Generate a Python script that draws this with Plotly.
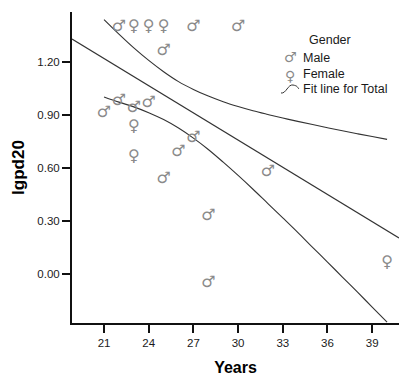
import plotly.graph_objects as go

# ---- data ----
male_years = [22, 27, 30, 25, 21, 22, 23, 24, 26, 27, 25, 28, 28, 32]
male_lgpd20 = [1.40, 1.40, 1.40, 1.26, 0.91, 0.98, 0.94, 0.97, 0.69, 0.77, 0.54, 0.33, -0.05, 0.575]
female_years = [23, 24, 25, 23, 23, 40]
female_lgpd20 = [1.40, 1.40, 1.40, 0.83, 0.66, 0.06]

# fit line for total (spans the whole axis)
fit_years = [18.85, 40.8]
fit_lgpd20 = [1.330, 0.204]

# 95% confidence band of the fit (read at each age)
ci_years = [21, 22, 23, 24, 25, 26, 27, 28, 29, 30, 31, 32, 33, 34, 35, 36, 37, 38, 39, 40]
ci_upper = [1.440, 1.358, 1.280, 1.209, 1.145, 1.089, 1.045, 1.007, 0.975, 0.948,
            0.924, 0.903, 0.883, 0.864, 0.846, 0.828, 0.811, 0.794, 0.778, 0.762]
ci_lower = [1.002, 0.973, 0.946, 0.913, 0.874, 0.826, 0.769, 0.705, 0.633, 0.558,
            0.480, 0.399, 0.318, 0.236, 0.151, 0.068, -0.017, -0.101, -0.187, -0.272]

x_ticks = [21, 24, 27, 30, 33, 36, 39]
y_ticks = [0.00, 0.30, 0.60, 0.90, 1.20]
x_range = [18.85, 40.8]
y_range = [-0.277, 1.483]

marker_color = "#8a8a8a"
line_color = "#333333"
text_color = "#1a1a1a"
font_family = "Liberation Sans, Arial, Helvetica, sans-serif"

fig = go.Figure()

fig.add_trace(go.Scatter(x=fit_years, y=fit_lgpd20, mode="lines",
                         line=dict(color=line_color, width=1.1), showlegend=False, hoverinfo="skip"))
fig.add_trace(go.Scatter(x=ci_years, y=ci_upper, mode="lines", line_shape="spline",
                         line=dict(color=line_color, width=1.1), showlegend=False, hoverinfo="skip"))
fig.add_trace(go.Scatter(x=ci_years, y=ci_lower, mode="lines", line_shape="spline",
                         line=dict(color=line_color, width=1.1), showlegend=False, hoverinfo="skip"))

fig.add_trace(go.Scatter(x=male_years, y=male_lgpd20, mode="text",
                         text=["\u2642"] * len(male_years), textposition="middle center",
                         textfont=dict(family="DejaVu Sans", size=16, color=marker_color),
                         showlegend=False))
fig.add_trace(go.Scatter(x=female_years, y=female_lgpd20, mode="text",
                         text=["\u2640"] * len(female_years), textposition="middle center",
                         textfont=dict(family="DejaVu Sans", size=16, color=marker_color),
                         showlegend=False))

# ---- manual legend ----
W, H, L, T, B = 399, 376, 72, 12, 53
pw, ph = W - L, H - T - B


def px(xp):
    return (xp - L) / pw


def py(yp):
    return (H - B - yp) / ph


anns = [
    dict(text="Gender", x=px(330), y=py(40), xanchor="center", yanchor="middle",
         font=dict(size=12.5, color=text_color, family=font_family)),
    dict(text="\u2642", x=px(290), y=py(57.5), xanchor="center", yanchor="middle",
         font=dict(size=14, color=marker_color, family="DejaVu Sans")),
    dict(text="Male", x=px(302), y=py(58), xanchor="left", yanchor="middle",
         font=dict(size=12.5, color=text_color, family=font_family)),
    dict(text="\u2640", x=px(290), y=py(76), xanchor="center", yanchor="middle",
         font=dict(size=14, color=marker_color, family="DejaVu Sans")),
    dict(text="Female", x=px(302), y=py(74), xanchor="left", yanchor="middle",
         font=dict(size=12.5, color=text_color, family=font_family)),
    dict(text="Fit line for Total", x=px(302), y=py(89), xanchor="left", yanchor="middle",
         font=dict(size=12.5, color=text_color, family=font_family)),
]
for a in anns:
    a.update(xref="paper", yref="paper", showarrow=False, borderpad=0)

# fit line legend icon
path = "M {} {} C {} {}, {} {}, {} {} S {} {}, {} {}".format(
    px(281), py(93), px(286), py(94), px(288), py(84), px(293), py(85),
    px(297), py(87), px(299), py(89))

fig.update_layout(
    width=W, height=H,
    margin=dict(l=L, r=0, t=T, b=B, pad=0),
    paper_bgcolor="white", plot_bgcolor="white",
    annotations=anns,
    shapes=[dict(type="path", path=path, xref="paper", yref="paper",
                 line=dict(color=line_color, width=1))],
    font=dict(family=font_family, color=text_color),
    xaxis=dict(range=x_range, tickvals=x_ticks, showgrid=False, zeroline=False,
               showline=True, linecolor="#111", linewidth=2, ticks="outside",
               ticklen=8, tickwidth=2, tickcolor="#111",
               tickfont=dict(size=11.5, color=text_color, family=font_family),
               title=dict(text="<b>Years</b>", font=dict(size=16, color="#000", family=font_family),
                          standoff=16)),
    yaxis=dict(range=y_range, tickvals=y_ticks, tickformat=".2f", showgrid=False, zeroline=False,
               showline=True, linecolor="#111", linewidth=2, ticks="outside",
               ticklen=8, tickwidth=2, tickcolor="#111",
               tickfont=dict(size=11.5, color=text_color, family=font_family),
               title=dict(text="<b>lgpd20</b>", font=dict(size=17, color="#000", family=font_family),
                          standoff=8)),
)

fig.write_html("out.html")
